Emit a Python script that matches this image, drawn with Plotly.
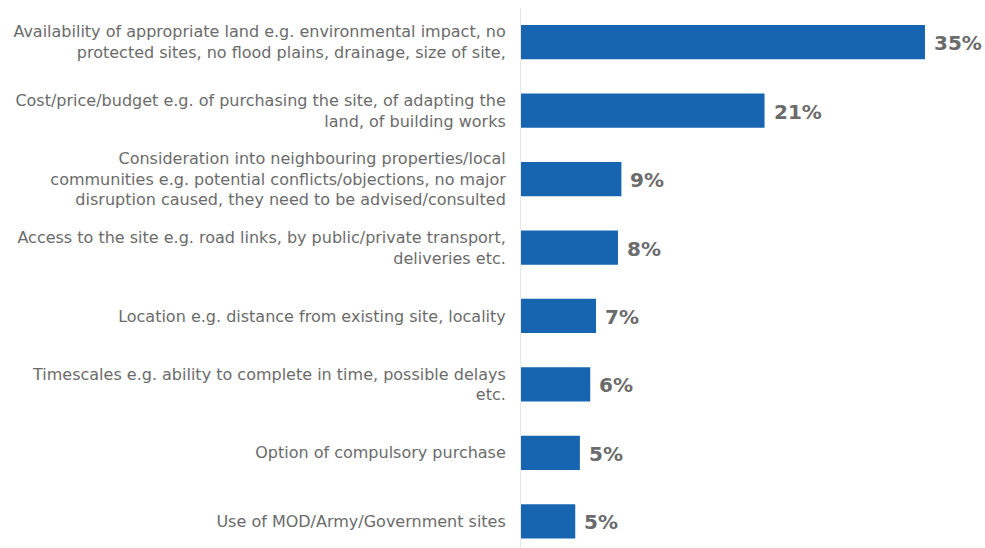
import plotly.graph_objects as go

categories = [
    "Availability of appropriate land e.g. environmental impact, no<br>protected sites, no flood plains, drainage, size of site,",
    "Cost/price/budget e.g. of purchasing the site, of adapting the<br>land, of building works",
    "Consideration into neighbouring properties/local<br>communities e.g. potential conflicts/objections, no major<br>disruption caused, they need to be advised/consulted",
    "Access to the site e.g. road links, by public/private transport,<br>deliveries etc.",
    "Location e.g. distance from existing site, locality",
    "Timescales e.g. ability to complete in time, possible delays<br>etc.",
    "Option of compulsory purchase",
    "Use of MOD/Army/Government sites",
]
values = [35.0, 21.1, 8.7, 8.4, 6.5, 6.0, 5.1, 4.7]
value_labels = ["35%", "21%", "9%", "8%", "7%", "6%", "5%", "5%"]

BAR = "#1764b0"
GREY = "#6b6b6b"

fig = go.Figure(go.Bar(
    x=values, y=categories, orientation="h",
    marker=dict(color=BAR, line=dict(width=0)),
    hoverinfo="skip",
))

for c, v, t in zip(categories, values, value_labels):
    fig.add_annotation(x=v, y=c, text="<b>%s</b>" % t, showarrow=False,
                       xanchor="left", xshift=7, yshift=-1,
                       font=dict(family="DejaVu Sans", size=20, color=GREY))

fig.update_layout(
    width=985, height=548,
    margin=dict(l=521, r=0, t=8, b=0),
    paper_bgcolor="white", plot_bgcolor="white",
    bargap=0.5, showlegend=False,
    font=dict(family="DejaVu Sans", size=16, color=GREY),
    xaxis=dict(range=[0, 40.2], visible=False, showgrid=False, zeroline=False),
    yaxis=dict(type="category", range=[7.39, -0.5], showgrid=False, zeroline=False,
               showline=True, linecolor="#e8e8e8", linewidth=1,
               ticks="", ticklabelstandoff=11,
               tickfont=dict(family="DejaVu Sans", size=16, color=GREY)),
)

fig.write_html("out.html",
               config={"displayModeBar": False},
               post_script="document.body.style.margin='0';document.body.style.overflow='hidden';")
